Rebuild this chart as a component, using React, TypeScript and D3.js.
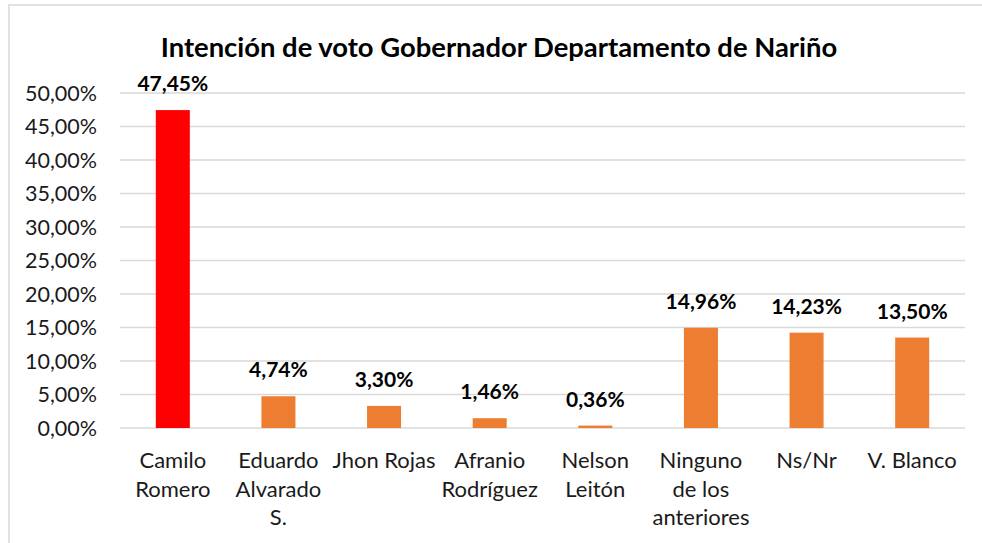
import React, { useEffect, useRef } from 'react';
import * as d3 from 'd3';

// categories, each one split into its label lines
const categories = [
  ['Camilo', 'Romero'],
  ['Eduardo', 'Alvarado', 'S.'],
  ['Jhon Rojas'],
  ['Afranio', 'Rodríguez'],
  ['Nelson', 'Leitón'],
  ['Ninguno', 'de los', 'anteriores'],
  ['Ns/Nr'],
  ['V. Blanco'],
];
const votes = [0.4745, 0.0474, 0.033, 0.0146, 0.0036, 0.1496, 0.1423, 0.135];
const yTicks = [0, 0.05, 0.1, 0.15, 0.2, 0.25, 0.3, 0.35, 0.4, 0.45, 0.5];
const title = 'Intención de voto Gobernador Departamento de Nariño';

const App = () => {
  const svgRef = useRef<SVGSVGElement>(null);

  useEffect(() => {
    document.body.style.margin = '0';
    const svg = d3.select(svgRef.current);
    svg.selectAll('*').remove();

    const width = 982;
    const height = 543;
    const font = 'Lato, "Open Sans", sans-serif';
    const pct = d3.formatLocale({ decimal: ',', thousands: '.', grouping: [3], currency: ['', ''] }).format('.2%');

    const x = d3
      .scaleBand()
      .domain(categories.map((_, i) => String(i)))
      .range([120, 965])
      .paddingInner(0.678)
      .paddingOuter(0.339);

    const y = d3.scaleLinear().domain([0, 0.5]).range([428, 93]);

    // chart border (cut off on the right and bottom)
    svg.append('rect')
      .attr('x', 9).attr('y', 5)
      .attr('width', width + 20).attr('height', height + 20)
      .attr('fill', 'white')
      .attr('stroke', '#d9d9d9')
      .attr('stroke-width', 1.5);

    svg.append('text')
      .attr('x', 499).attr('y', 57)
      .attr('text-anchor', 'middle')
      .attr('font-family', font)
      .attr('font-weight', 700)
      .attr('font-size', 27.4)
      .attr('fill', '#000')
      .text(title);

    // gridlines
    svg.append('g')
      .selectAll('line')
      .data(yTicks)
      .join('line')
      .attr('x1', 120).attr('x2', 965)
      .attr('y1', (d) => y(d)).attr('y2', (d) => y(d))
      .attr('stroke', '#d9d9d9')
      .attr('stroke-width', 1.5);

    // y tick labels
    svg.append('g')
      .selectAll('text')
      .data(yTicks)
      .join('text')
      .attr('x', 97)
      .attr('y', (d) => y(d) + 7.5)
      .attr('text-anchor', 'end')
      .attr('font-family', font)
      .attr('font-size', 21.5)
      .attr('fill', '#1a1a1a')
      .text((d) => pct(d));

    // bars
    svg.append('g')
      .selectAll('rect')
      .data(votes)
      .join('rect')
      .attr('x', (_, i) => x(String(i))!)
      .attr('y', (d) => y(d))
      .attr('width', x.bandwidth())
      .attr('height', (d) => y(0) - y(d))
      .attr('fill', (_, i) => (i === 0 ? '#ff0000' : '#ed7d31'));

    // value labels
    svg.append('g')
      .selectAll('text')
      .data(votes)
      .join('text')
      .attr('x', (_, i) => x(String(i))! + x.bandwidth() / 2)
      .attr('y', (d) => y(d) - 19)
      .attr('text-anchor', 'middle')
      .attr('font-family', font)
      .attr('font-weight', 700)
      .attr('font-size', 21)
      .attr('fill', '#000')
      .text((d) => pct(d));

    // category labels
    const cat = svg.append('g')
      .selectAll('text')
      .data(categories)
      .join('text')
      .attr('text-anchor', 'middle')
      .attr('font-family', font)
      .attr('font-size', 22)
      .attr('fill', '#1a1a1a');
    cat.each(function (lines, i) {
      const cx = x(String(i))! + x.bandwidth() / 2;
      d3.select(this)
        .selectAll('tspan')
        .data(lines)
        .join('tspan')
        .attr('x', cx)
        .attr('y', (_, j) => 468 + j * 28.5)
        .text((t) => t);
    });
  }, []);

  return <svg ref={svgRef} width={982} height={543} style={{ display: 'block' }} />;
};

export default App;
